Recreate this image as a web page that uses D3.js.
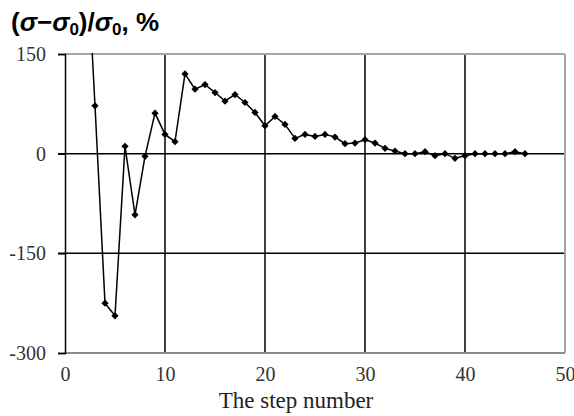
<!DOCTYPE html>
<html><head><meta charset="utf-8">
<script src="https://cdn.jsdelivr.net/npm/d3@7"></script>
<style>html,body{margin:0;padding:0;background:#fff;}svg{display:block;}</style>
</head><body>
<svg id="c" width="574" height="416"></svg>
<script>
const steps = [2,3,4,5,6,7,8,9,10,11,12,13,14,15,16,17,18,19,20,21,22,23,24,25,26,27,28,29,30,31,32,33,34,35,36,37,38,39,40,41,42,43,44,45,46];
const deviation = [360,72,-225,-244,11,-92,-4,61,29,18,120,97,104,92,79,89,77,62,42,56,44,23,29,26,29,25,15,16,21,16,8,4,0,0,3,-3,0,-7,-3,0,0,0,0,3,0];
const xTicks = [0,10,20,30,40,50];
const yTicks = [150,0,-150,-300];
const xLabel = "The step number";

const svg = d3.select("#c");
const L = 65, R = 565, T = 54, B = 353;
const x = d3.scaleLinear().domain([0,50]).range([L,R]);
const y = d3.scaleLinear().domain([-300,150]).range([B,T]);
const serif = "'Liberation Serif','Times New Roman',serif";

// gridlines
svg.append("g").selectAll("line").data(xTicks.filter(d=>d>0&&d<50)).join("line")
  .attr("x1",d=>x(d)).attr("x2",d=>x(d)).attr("y1",T).attr("y2",B)
  .attr("stroke","#000").attr("stroke-width",1.5);
svg.append("g").selectAll("line").data(yTicks.filter(d=>d>-300&&d<150)).join("line")
  .attr("x1",L-7).attr("x2",R).attr("y1",d=>y(d)).attr("y2",d=>y(d))
  .attr("stroke","#000").attr("stroke-width",1.5);
// frame
svg.append("line").attr("x1",L).attr("x2",R).attr("y1",T).attr("y2",T).attr("stroke","#a6a6a6").attr("stroke-width",2);
svg.append("line").attr("x1",R).attr("x2",R).attr("y1",T).attr("y2",B).attr("stroke","#a6a6a6").attr("stroke-width",2);
svg.append("line").attr("x1",L).attr("x2",R).attr("y1",B).attr("y2",B).attr("stroke","#8c8c8c").attr("stroke-width",2);
// left axis
const ya = svg.append("g").attr("transform",`translate(${L},0)`)
  .call(d3.axisLeft(y).tickValues(yTicks).tickSize(7).tickPadding(12).tickFormat(d=>String(d)));
ya.select(".domain").attr("stroke","#000").attr("stroke-width",1.5);
ya.selectAll(".tick line").attr("stroke","#000").attr("stroke-width",1.5);
ya.selectAll("text").style("font-family",serif).style("font-size","20px").style("fill","#333");
// bottom axis labels
const xa = svg.append("g").attr("transform",`translate(0,${B})`)
  .call(d3.axisBottom(x).tickValues(xTicks).tickSize(0).tickPadding(14).tickFormat(d=>String(d)));
xa.select(".domain").remove();
xa.selectAll("text").style("font-family",serif).style("font-size","20px").style("fill","#333");

// clip
svg.append("clipPath").attr("id","pa").append("rect").attr("x",L).attr("y",T-1).attr("width",R-L+5).attr("height",B-T+6);
const data = steps.map((s,i)=>[s,deviation[i]]);
const g = svg.append("g").attr("clip-path","url(#pa)");
g.append("path").datum(data)
  .attr("d",d3.line().x(d=>x(d[0])).y(d=>y(d[1])))
  .attr("fill","none").attr("stroke","#000").attr("stroke-width",1.5);
g.selectAll("path.m").data(data).join("path").attr("class","m")
  .attr("transform",d=>`translate(${x(d[0])},${y(d[1])}) rotate(45)`)
  .attr("d",d3.symbol().type(d3.symbolSquare).size(26))
  .attr("fill","#000");

// title
const t = svg.append("text").attr("x",11).attr("y",31)
  .attr("font-family","'Liberation Sans',Arial,sans-serif").attr("font-weight","bold").attr("font-size",26).attr("fill","#000");
t.append("tspan").text("(");
t.append("tspan").attr("font-style","italic").text("σ");
t.append("tspan").text("−");
t.append("tspan").attr("font-style","italic").text("σ");
t.append("tspan").attr("font-size",17).attr("dy",4).text("0");
t.append("tspan").attr("dy",-4).text(")/");
t.append("tspan").attr("font-style","italic").text("σ");
t.append("tspan").attr("font-size",17).attr("dy",4).text("0");
t.append("tspan").attr("dy",-4).text(", %");

svg.append("text").attr("x",296).attr("y",408).attr("text-anchor","middle")
  .style("font-family",serif).style("font-size","23px").attr("fill","#222").text(xLabel);
</script>
</body></html>
